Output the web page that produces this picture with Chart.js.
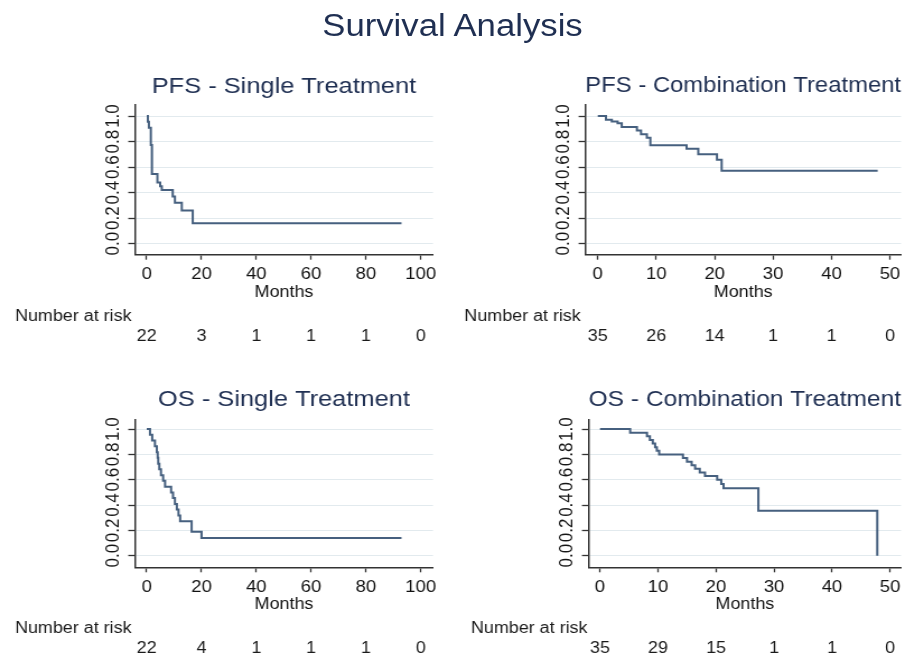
<!DOCTYPE html>
<html>
<head>
<meta charset="utf-8">
<title>Survival Analysis</title>
<script src="https://cdn.jsdelivr.net/npm/chart.js@4.4.0/dist/chart.umd.min.js"></script>
<style>
    html, body { margin: 0; padding: 0; background: #fff; }
    body { width: 912px; height: 657px; overflow: hidden; position: relative; }
    /* the source picture is a little wider than tall, so the whole sheet is stretched */
    #stage { position: absolute; left: 0; top: 0; width: 814.3px; height: 657px; transform: scaleX(1.12); transform-origin: 0 0; }
    #main-title { position: absolute; left: 0; top: 7px; width: 808px; text-align: center; font: 31px "Liberation Sans", Arial, sans-serif; line-height: 37px; color: #1f2f52; }
    .panel { position: absolute; width: 407px; }
    .panel canvas { display: block; }
</style>
</head>
<body>
<div id="stage">
    <div id="main-title">Survival Analysis</div>
    <div class="panel" style="left:0;top:55px;height:300px"><canvas id="pfs-single"></canvas></div>
    <div class="panel" style="left:407px;top:55px;height:300px"><canvas id="pfs-combo"></canvas></div>
    <div class="panel" style="left:0;top:365px;height:292px"><canvas id="os-single"></canvas></div>
    <div class="panel" style="left:407px;top:365px;height:292px"><canvas id="os-combo"></canvas></div>
</div>
<script>
// tick labels
const yTicks = [0, 0.2, 0.4, 0.6, 0.8, 1.0];
const singleTicks = [0, 20, 40, 60, 80, 100];
const comboTicks = [0, 10, 20, 30, 40, 50];

// PFS - single treatment
const pfsSingleMonths = [0, 0.4, 0.8, 1.5, 1.9, 3.9, 4.9, 5.5, 9.5, 10.3, 12.8, 16.8, 93];
const pfsSingleSurv = [1.0, 0.955, 0.909, 0.773, 0.545, 0.48, 0.45, 0.42, 0.37, 0.32, 0.26, 0.16, 0.16];
const pfsSingleRisk = [22, 3, 1, 1, 1, 0];

// PFS - combination treatment
const pfsComboMonths = [0, 1.4, 2.4, 3.4, 4.1, 6.7, 7.4, 8.4, 9.0, 15.2, 17.2, 20.4, 21.2, 47.9];
const pfsComboSurv = [1.0, 0.971, 0.957, 0.943, 0.914, 0.886, 0.857, 0.829, 0.771, 0.743, 0.70, 0.657, 0.571, 0.571];
const pfsComboRisk = [35, 26, 14, 1, 1, 0];

// OS - single treatment
const osSingleMonths = [0, 1.2, 2.0, 3.0, 3.7, 4.0, 4.2, 4.6, 5.2, 6.0, 6.7, 8.9, 9.6, 10.3, 11.0, 11.6, 12.2, 16.4, 20.0, 93];
const osSingleSurv = [1.0, 0.955, 0.909, 0.864, 0.818, 0.773, 0.727, 0.682, 0.636, 0.591, 0.545, 0.50, 0.455, 0.409, 0.364, 0.318, 0.273, 0.19, 0.14, 0.14];
const osSingleRisk = [22, 4, 1, 1, 1, 0];

// OS - combination treatment
const osComboMonths = [0, 5.2, 8.1, 8.6, 9.1, 9.5, 9.8, 10.2, 14.3, 15.0, 15.8, 16.4, 17.2, 18.1, 20.2, 20.9, 21.3, 27.3, 47.8];
const osComboSurv = [1.0, 0.971, 0.943, 0.914, 0.886, 0.857, 0.829, 0.80, 0.771, 0.743, 0.714, 0.686, 0.657, 0.629, 0.60, 0.567, 0.532, 0.355, 0.0];
const osComboRisk = [35, 29, 15, 1, 1, 0];

const FONT = '"Liberation Sans", Arial, sans-serif';
const LINE = '#46607f';
const AXIS = '#333';

// rotated y labels and the number-at-risk rows
const kmDecor = {
    id: 'kmDecor',
    afterDraw(chart, args, opts) {
        const {ctx, chartArea} = chart;
        const x = chart.scales.x;
        const y = chart.scales.y;
        ctx.save();
        ctx.fillStyle = '#151515';
        ctx.textAlign = 'center';
        ctx.textBaseline = 'middle';
        ctx.font = '17px ' + FONT;
        yTicks.forEach(function (v) {
            ctx.save();
            ctx.translate(chartArea.left - 19, y.getPixelForValue(v));
            ctx.rotate(-Math.PI / 2);
            ctx.fillText(v.toFixed(1), 0, 0);
            ctx.restore();
        });

        ctx.fillStyle = '#1a1a1a';
        ctx.font = '16px ' + FONT;
        ctx.textAlign = 'left';
        ctx.fillText('Number at risk', opts.labelX, chartArea.bottom + opts.labelDy);
        ctx.textAlign = 'center';
        opts.ticks.forEach(function (t, i) {
            ctx.fillText(String(opts.risk[i]), x.getPixelForValue(t), chartArea.bottom + opts.numDy);
        });
        ctx.restore();
    }
};

function makeChart(id, p) {
    const ctx = document.getElementById(id).getContext('2d');
    return new Chart(ctx, {
        type: 'line',
        data: {
            datasets: [{
                data: p.months.map(function (m, i) { return {x: m, y: p.surv[i]}; }),
                stepped: 'before',
                borderColor: LINE,
                borderWidth: 2,
                pointRadius: 0,
                fill: false
            }]
        },
        options: {
            responsive: true,
            maintainAspectRatio: false,
            animation: false,
            layout: {
                padding: {left: p.padLeft, right: p.padRight, top: 0, bottom: p.padBottom}
            },
            plugins: {
                legend: {display: false},
                tooltip: {enabled: false},
                title: {
                    display: true,
                    text: p.title,
                    color: '#1f2f52',
                    fullSize: false,
                    font: {family: FONT, size: 22.7, weight: 'normal'},
                    padding: {top: p.titleTop, bottom: p.titleBottom}
                },
                kmDecor: {
                    ticks: p.ticks,
                    risk: p.risk,
                    labelX: p.labelX,
                    labelDy: p.labelDy,
                    numDy: p.numDy
                }
            },
            scales: {
                x: {
                    type: 'linear',
                    min: p.xMin,
                    max: p.xMax,
                    afterBuildTicks: function (s) { s.ticks = p.ticks.map(function (v) { return {value: v}; }); },
                    afterFit: function (s) { s.height = p.xHeight; },
                    border: {color: AXIS, width: 1.5},
                    grid: {drawOnChartArea: false, tickLength: 5, tickColor: AXIS, tickWidth: 1.3},
                    ticks: {color: '#111', font: {family: FONT, size: 16.5}, padding: 5, maxRotation: 0},
                    title: {display: true, text: 'Months', color: '#111', font: {family: FONT, size: 16}, padding: 0}
                },
                y: {
                    type: 'linear',
                    min: p.yMin,
                    max: p.yMax,
                    afterBuildTicks: function (s) { s.ticks = yTicks.map(function (v) { return {value: v}; }); },
                    afterFit: function (s) { s.width = 30; },
                    border: {color: AXIS, width: 1.5},
                    grid: {color: '#e2eaee', lineWidth: 1, tickLength: 6, tickColor: AXIS, tickWidth: 1.3},
                    ticks: {display: false}
                }
            }
        },
        plugins: [kmDecor]
    });
}

makeChart('pfs-single', {
    title: 'PFS - Single Treatment', months: pfsSingleMonths, surv: pfsSingleSurv,
    ticks: singleTicks, risk: pfsSingleRisk, xMin: -4.29, xMax: 104.5, yMin: -0.086, yMax: 1.086,
    padLeft: 90.5, padRight: 20.4, padBottom: 53, xHeight: 47.3, titleTop: 18.2, titleBottom: 4.6,
    labelX: 13.4, labelDy: 62, numDy: 82
});
makeChart('pfs-combo', {
    title: 'PFS - Combination Treatment', months: pfsComboMonths, surv: pfsComboSurv,
    ticks: comboTicks, risk: pfsComboRisk, xMin: -2.13, xMax: 51.9, yMin: -0.086, yMax: 1.086,
    padLeft: 85.6, padRight: 9.5, padBottom: 53, xHeight: 47.3, titleTop: 16.8, titleBottom: 6.0,
    labelX: 7.6, labelDy: 62, numDy: 82
});
makeChart('os-single', {
    title: 'OS - Single Treatment', months: osSingleMonths, surv: osSingleSurv,
    ticks: singleTicks, risk: osSingleRisk, xMin: -4.29, xMax: 104.5, yMin: -0.0916, yMax: 1.077,
    padLeft: 90.5, padRight: 20.4, padBottom: 43, xHeight: 46.7, titleTop: 21.5, titleBottom: 5.6,
    labelX: 13.4, labelDy: 61, numDy: 81
});
makeChart('os-combo', {
    title: 'OS - Combination Treatment', months: osComboMonths, surv: osComboSurv,
    ticks: comboTicks, risk: osComboRisk, xMin: -1.95, xMax: 51.9, yMin: -0.0916, yMax: 1.077,
    padLeft: 88.6, padRight: 9.5, padBottom: 43, xHeight: 46.7, titleTop: 20.7, titleBottom: 6.4,
    labelX: 13.5, labelDy: 61, numDy: 81
});
</script>
</body>
</html>
